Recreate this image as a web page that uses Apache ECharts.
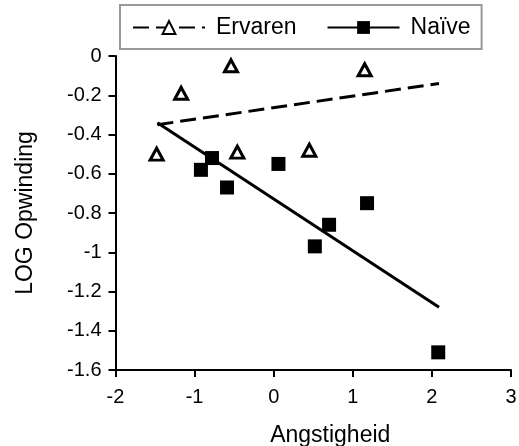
<!DOCTYPE html>
<html><head><meta charset="utf-8">
<script src="https://cdn.jsdelivr.net/npm/echarts@6/dist/echarts.min.js"></script>
<style>html,body{margin:0;padding:0;background:#fff}#c{width:519px;height:446px}</style>
</head><body><div id="c"></div>
<script>
const xTicks = [-2, -1, 0, 1, 2, 3];
const yTicks = [0, -0.2, -0.4, -0.6, -0.8, -1, -1.2, -1.4, -1.6];
const ervarenX = [-1.48, -1.17, -0.54, -0.46, 0.45, 1.15];
const ervarenY = [-0.50, -0.19, -0.05, -0.49, -0.48, -0.07];
const naiveX = [-0.92, -0.78, -0.59, 0.06, 0.52, 0.70, 1.18, 2.08];
const naiveY = [-0.58, -0.52, -0.67, -0.55, -0.97, -0.86, -0.75, -1.51];
const ervarenTrendX = [-1.47, 2.09];
const ervarenTrendY = [-0.35, -0.14];
const naiveTrendX = [-1.47, 2.09];
const naiveTrendY = [-0.34, -1.28];

const zip = (a, b) => a.map((v, i) => [v, b[i]]);
const FONT = 'Liberation Sans, Arial, sans-serif';
const chart = echarts.init(document.getElementById('c'));
chart.setOption({
  animation: false,
  textStyle: { fontFamily: FONT, color: '#000' },
  grid: { left: 115.5, right: 8, top: 56, bottom: 76, containLabel: false, outerBoundsMode: 'none' },
  legend: {
    left: 120, top: 5,
    data: ['Ervaren', 'Naïve'],
    borderColor: '#999', borderWidth: 2,
    padding: [11, 11, 10, 12],
    itemWidth: 72, itemHeight: 16, itemGap: 30,
    textStyle: { fontFamily: FONT, fontSize: 23, color: '#000', padding: [0, 0, 0, 6] }
  },
  xAxis: {
    type: 'value', min: -2, max: 3, interval: 1,
    name: 'Angstigheid', nameLocation: 'middle', nameGap: 54,
    nameTextStyle: { fontFamily: FONT, fontSize: 23, color: '#000', padding: [0, 0, 0, 34] },
    axisLine: { onZero: false, lineStyle: { color: '#000', width: 2 } },
    axisTick: { show: true, length: 7, lineStyle: { color: '#000', width: 2 } },
    axisLabel: { fontFamily: FONT, fontSize: 20, color: '#000', margin: 17,
      formatter: v => xTicks.includes(v) ? String(v) : '' },
    splitLine: { show: false }
  },
  yAxis: {
    type: 'value', min: -1.6, max: 0, interval: 0.2,
    name: 'LOG Opwinding', nameLocation: 'middle', nameGap: 78,
    nameTextStyle: { fontFamily: FONT, fontSize: 23, color: '#000' },
    axisLine: { onZero: false, lineStyle: { color: '#000', width: 2 } },
    axisTick: { show: true, length: 7, lineStyle: { color: '#000', width: 2 } },
    axisLabel: { fontFamily: FONT, fontSize: 20, color: '#000', margin: 14,
      formatter: v => { const t = yTicks.find(k => Math.abs(k - v) < 1e-6); return t === undefined ? '' : String(t); } },
    splitLine: { show: false }
  },
  series: [
    { name: 'Ervaren', type: 'line', data: zip(ervarenTrendX, ervarenTrendY),
      symbol: 'triangle', symbolSize: 13, showSymbol: false,
      lineStyle: { color: '#000', width: 3, type: [16, 7] },
      itemStyle: { color: '#fff', borderColor: '#000', borderWidth: 3 }, z: 2 },
    { name: 'Naïve', type: 'line', data: zip(naiveTrendX, naiveTrendY),
      symbol: 'rect', symbolSize: 14, showSymbol: false,
      lineStyle: { color: '#000', width: 3 },
      itemStyle: { color: '#000' }, z: 2 },
    { name: 'Ervaren pts', type: 'scatter', data: zip(ervarenX, ervarenY),
      symbol: 'triangle', symbolSize: [13, 12],
      itemStyle: { color: '#fff', borderColor: '#000', borderWidth: 3, opacity: 1 }, z: 3 },
    { name: 'Naïve pts', type: 'scatter', data: zip(naiveX, naiveY),
      symbol: 'rect', symbolSize: 14,
      itemStyle: { color: '#000', opacity: 1 }, z: 3 }
  ]
});
</script></body></html>
